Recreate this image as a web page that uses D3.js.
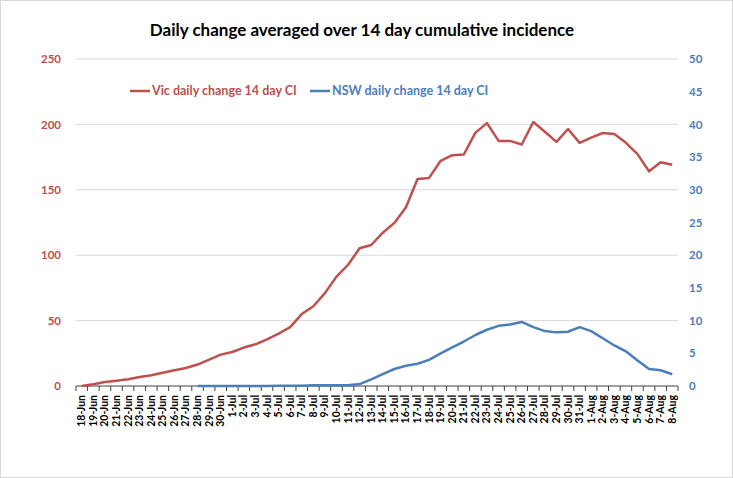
<!DOCTYPE html>
<html>
<head>
<meta charset="utf-8">
<script src="https://cdn.jsdelivr.net/npm/d3@7"></script>
<style>
  body { margin: 0; background: #fff; }
  text { font-family: Lato, "Open Sans", sans-serif; font-weight: bold; }
</style>
</head>
<body>
<div id="chart"></div>
<script>
const dates = [
  "18-Jun", "19-Jun", "20-Jun", "21-Jun", "22-Jun", "23-Jun", "24-Jun", "25-Jun", "26-Jun", "27-Jun",
  "28-Jun", "29-Jun", "30-Jun", "1-Jul", "2-Jul", "3-Jul", "4-Jul", "5-Jul", "6-Jul", "7-Jul",
  "8-Jul", "9-Jul", "10-Jul", "11-Jul", "12-Jul", "13-Jul", "14-Jul", "15-Jul", "16-Jul", "17-Jul",
  "18-Jul", "19-Jul", "20-Jul", "21-Jul", "22-Jul", "23-Jul", "24-Jul", "25-Jul", "26-Jul", "27-Jul",
  "28-Jul", "29-Jul", "30-Jul", "31-Jul", "1-Aug", "2-Aug", "3-Aug", "4-Aug", "5-Aug", "6-Aug",
  "7-Aug", "8-Aug"
];

// Vic, left axis
const vic = [
  0, 1.3, 3.1, 4.1, 5.1, 6.9, 8.2, 10.2, 12, 13.8,
  16.4, 20.2, 24, 26, 29.4, 31.9, 35.7, 40.1, 45, 55,
  61, 71, 83.6, 92.7, 105.3, 107.8, 117.2, 124.7, 136.6, 158.3,
  159.1, 172.2, 176.5, 177, 193.7, 201, 187.4, 187.4, 184.6, 201.8,
  194.4, 186.6, 196.5, 185.9, 189.9, 193.4, 192.7, 185.9, 177.3, 164.1,
  171, 169.2
];

// NSW, right axis (starts 28-Jun)
const nsw = [
  null, null, null, null, null, null, null, null, null, null,
  0, 0, 0, 0, 0, 0, 0, 0.05, 0.05, 0.05,
  0.1, 0.1, 0.1, 0.1, 0.3, 1, 1.8, 2.6, 3.1, 3.4,
  4, 5, 5.9, 6.8, 7.8, 8.6, 9.2, 9.4, 9.8, 9.0,
  8.4, 8.2, 8.3, 9.0, 8.4, 7.3, 6.2, 5.3, 3.9, 2.6,
  2.4, 1.8
];

const leftTicks = [0, 50, 100, 150, 200, 250];
const rightTicks = [0, 5, 10, 15, 20, 25, 30, 35, 40, 45, 50];

const vicColor = "#c0504d";
const nswColor = "#4a7ebb";

const width = 733, height = 478;
const margin = { top: 59, right: 55, bottom: 92, left: 76 };

const svg = d3.select("#chart").append("svg")
  .attr("width", width)
  .attr("height", height)
  .attr("viewBox", [0, 0, width, height]);

svg.append("rect")
  .attr("x", 0.5).attr("y", 0.5)
  .attr("width", width - 1).attr("height", height - 1)
  .attr("fill", "#fff").attr("stroke", "#d9d9d9");

const x = d3.scaleBand()
  .domain(dates)
  .range([margin.left, width - margin.right]);

const yL = d3.scaleLinear().domain([0, 250]).range([height - margin.bottom, margin.top]);
const yR = d3.scaleLinear().domain([0, 50]).range([height - margin.bottom, margin.top]);

// gridlines
svg.append("g")
  .selectAll("line")
  .data(leftTicks.slice(1))
  .join("line")
  .attr("x1", margin.left).attr("x2", width - margin.right)
  .attr("y1", (d) => yL(d)).attr("y2", (d) => yL(d))
  .attr("stroke", "#d9d9d9");

// left axis labels
svg.append("g")
  .attr("transform", `translate(${margin.left - 12},0)`)
  .call(d3.axisLeft(yL).tickValues(leftTicks).tickSize(0))
  .call((g) => g.select(".domain").remove())
  .selectAll("text")
  .attr("fill", vicColor)
  .attr("font-size", 11.5);

// right axis labels
svg.append("g")
  .attr("transform", `translate(${width - margin.right + 8},0)`)
  .call(d3.axisRight(yR).tickValues(rightTicks).tickSize(0))
  .call((g) => g.select(".domain").remove())
  .selectAll("text")
  .attr("fill", nswColor)
  .attr("font-size", 11.5);

// x axis
const xAxis = svg.append("g")
  .attr("transform", `translate(0,${height - margin.bottom})`);
xAxis.append("line")
  .attr("x1", margin.left).attr("x2", width - margin.right)
  .attr("stroke", "#404040");
xAxis.selectAll(".tk")
  .data(dates.concat([null]))
  .join("line")
  .attr("class", "tk")
  .attr("x1", (d, i) => margin.left + i * x.step())
  .attr("x2", (d, i) => margin.left + i * x.step())
  .attr("y2", 5)
  .attr("stroke", "#404040");
xAxis.selectAll(".lbl")
  .data(dates)
  .join("text")
  .attr("class", "lbl")
  .attr("transform", (d) => `translate(${x(d) + x.bandwidth() / 2 + 3.5},9) rotate(-90)`)
  .attr("text-anchor", "end")
  .attr("font-size", 10.5)
  .attr("fill", "#000")
  .text((d) => d);

// lines
const vicLine = d3.line()
  .x((d, i) => x(dates[i]) + x.bandwidth() / 2)
  .y((d) => yL(d));

const nswLine = d3.line()
  .defined((d) => d !== null)
  .x((d, i) => x(dates[i]) + x.bandwidth() / 2)
  .y((d) => yR(d));

svg.append("path")
  .datum(nsw)
  .attr("fill", "none")
  .attr("stroke", nswColor)
  .attr("stroke-width", 2.5)
  .attr("stroke-linejoin", "round")
  .attr("d", nswLine);

svg.append("path")
  .datum(vic)
  .attr("fill", "none")
  .attr("stroke", vicColor)
  .attr("stroke-width", 2.5)
  .attr("stroke-linejoin", "round")
  .attr("d", vicLine);

// title
svg.append("text")
  .attr("x", 362)
  .attr("y", 36)
  .attr("text-anchor", "middle")
  .attr("font-size", 17)
  .attr("fill", "#000")
  .text("Daily change averaged over 14 day cumulative incidence");

// legend
const legend = [
  { name: "Vic daily change 14 day CI", color: vicColor, x: 130 },
  { name: "NSW daily change 14 day CI", color: nswColor, x: 310 }
];
const lg = svg.append("g").selectAll("g").data(legend).join("g")
  .attr("transform", (d) => `translate(${d.x},91)`);
lg.append("line")
  .attr("x2", 20)
  .attr("stroke", (d) => d.color)
  .attr("stroke-width", 2.5);
lg.append("text")
  .attr("x", 22)
  .attr("dy", "0.35em")
  .attr("font-size", 12.5)
  .attr("fill", (d) => d.color)
  .text((d) => d.name);
</script>
</body>
</html>
